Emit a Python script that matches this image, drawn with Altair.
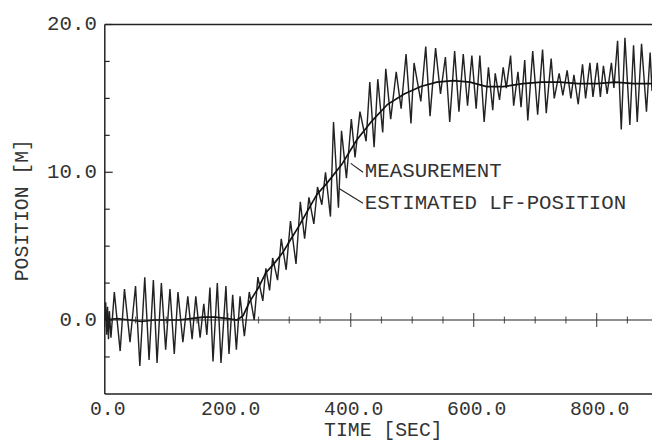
import altair as alt
import pandas as pd

meas_t = [0, 1.5, 3, 4.5, 6, 7.5, 10, 15.5, 25, 32, 41, 50, 57, 65, 72, 79, 85, 92, 99, 106,
          113, 119, 127, 135, 142, 148, 155, 161, 166, 171, 176, 183, 189, 197, 202, 208, 214,
          220, 227, 235, 243, 249, 257, 262, 268, 273, 281, 287, 295, 302, 311, 318, 325, 332,
          340, 346, 353, 359, 367, 372, 380, 385, 393, 401, 407, 415, 425, 431, 438, 444, 452,
          457, 465, 474, 482, 490, 498, 503, 514, 522, 529, 538, 546, 554, 561, 569, 576, 583,
          590, 597, 604, 610, 617, 624, 631, 635, 642, 648, 653, 660, 665, 672, 677, 683, 688,
          696, 704, 712, 718, 726, 731, 739, 745, 752, 758, 763, 770, 777, 782, 789, 794, 801,
          806, 811, 817, 824, 828, 834, 840, 846, 854, 860, 866, 873, 881, 887, 890]
meas_y = [0.0, 1.2, -1.0, 0.9, -1.3, 0.6, -1.2, 1.9, -2.1, 2.1, -1.5, 2.3, -3.1, 2.9, -2.7, 2.7,
          -2.9, 2.5, -2.0, 2.1, -2.3, 1.9, -1.5, 1.6, -1.3, 1.6, -1.2, 1.1, -1.0, 2.2, -2.8, 2.5,
          -2.9, 2.3, -2.3, 1.7, -2.0, 1.6, -1.1, 1.9, 0.0, 2.9, 1.3, 3.5, 2.0, 4.2, 2.7, 5.5, 3.4,
          6.7, 3.8, 8.0, 5.5, 8.3, 6.5, 9.0, 7.8, 10.0, 7.0, 13.4, 7.6, 12.8, 9.6, 13.6, 11.0,
          14.1, 12.1, 16.1, 11.7, 16.3, 12.7, 17.0, 13.6, 16.8, 14.3, 18.0, 13.3, 17.4, 14.8,
          18.5, 13.8, 18.4, 15.3, 17.8, 13.4, 18.2, 14.1, 18.0, 14.5, 17.9, 14.3, 17.9, 13.4,
          17.1, 14.2, 16.7, 14.9, 17.1, 15.7, 17.9, 14.5, 16.8, 14.4, 17.6, 13.5, 18.2, 13.9,
          18.3, 14.0, 17.7, 15.0, 16.7, 15.2, 16.9, 15.0, 16.6, 14.6, 17.3, 15.0, 17.4, 15.1,
          17.4, 15.1, 17.2, 15.3, 17.4, 15.7, 18.9, 12.9, 19.1, 13.2, 18.6, 13.4, 18.7, 14.1,
          18.1, 15.5]

# Estimated low-frequency position
lf_t = [0, 20, 40, 60, 80, 100, 120, 140, 160, 180, 200, 215, 225, 235, 250, 262, 275, 290,
        300, 315, 330, 345, 360, 385, 410, 435, 460, 487, 514, 540, 567, 594, 621, 648, 680,
        710, 740, 770, 800, 830, 860, 890]
lf_y = [0.0, 0.1, 0.0, -0.1, 0.0, 0.0, 0.0, 0.1, 0.2, 0.2, 0.1, 0.0, 0.3, 1.2, 2.2, 3.2, 3.8,
        4.6, 5.3, 6.3, 7.4, 8.5, 9.2, 10.5, 12.2, 13.5, 14.6, 15.3, 15.8, 16.1, 16.2, 16.1,
        15.8, 15.8, 16.0, 16.1, 16.1, 16.0, 16.0, 16.1, 16.0, 16.0]

zero_major = [0, 200, 400, 600, 800]
zero_minor = [50, 100, 150, 250, 300, 350, 450, 500, 550, 650, 700, 750, 850]
y_major = [0, 10, 20]
y_minor = [-2.5, 2.5, 5, 7.5, 12.5, 15, 17.5]
x_title = "TIME [SEC]"
y_title = "POSITION [M]"

labels_txt = ["MEASUREMENT", "ESTIMATED LF-POSITION"]
labels_t = [423, 423]
labels_y = [10.1, 7.9]
lead_t = [400, 381]
lead_y = [10.6, 8.9]
lead_t2 = [420, 420]
lead_y2 = [10.0, 7.9]

FONT = "Liberation Mono"
INK = "#222222"
TXT = "#333333"
XD = [0, 890]
YD = [-5, 20]
W, H = 554, 374

meas = pd.DataFrame({"t": meas_t, "y": meas_y})
lf = pd.DataFrame({"t": lf_t, "y": lf_y})

xs = alt.Scale(domain=XD, nice=False, zero=False)
ys = alt.Scale(domain=YD, nice=False, zero=False)


def X(f):
    return alt.X(f, scale=xs, axis=None)


def Y(f):
    return alt.Y(f, scale=ys, axis=None)


meas_line = alt.Chart(meas).mark_line(color=INK, strokeWidth=1.45, clip=True).encode(
    x=X("t:Q"), y=Y("y:Q"), order="t:Q")
lf_line = alt.Chart(lf).mark_line(color="#111111", strokeWidth=1.7, clip=True).encode(
    x=X("t:Q"), y=Y("y:Q"), order="t:Q")

# frame: bottom, top (horizontal) and left (vertical) lines on the scale edges
frame_h = alt.Chart(pd.DataFrame({"v": YD})).mark_rule(color=INK, strokeWidth=1.5).encode(
    y=Y("v:Q"))
frame_v = alt.Chart(pd.DataFrame({"t": [XD[0]]})).mark_rule(color=INK, strokeWidth=1.5).encode(
    x=X("t:Q"))

zero_rule = alt.Chart(pd.DataFrame({"v": [0]})).mark_rule(color=INK, strokeWidth=1.2).encode(
    y=Y("v:Q"))

zt_major = alt.Chart(pd.DataFrame({"t": zero_major, "v": [0] * len(zero_major)})).mark_tick(
    orient="vertical", size=14, thickness=1.3, color=INK).encode(x=X("t:Q"), y=Y("v:Q"))
zt_minor = alt.Chart(pd.DataFrame({"t": zero_minor, "v": [0] * len(zero_minor)})).mark_tick(
    orient="vertical", size=7, thickness=1.2, color=INK).encode(x=X("t:Q"), y=Y("v:Q"))

yt_major = alt.Chart(pd.DataFrame({"v": y_major})).mark_rule(color=INK, strokeWidth=1.2).encode(
    y=Y("v:Q"), x=alt.value(0), x2=alt.value(8))
yt_minor = alt.Chart(pd.DataFrame({"v": y_minor})).mark_rule(color=INK, strokeWidth=1.2).encode(
    y=Y("v:Q"), x=alt.value(0), x2=alt.value(5))

# tick labels
xl_df = pd.DataFrame({"t": zero_major, "s": [f"{v:.1f}" for v in zero_major]})
x_labels = alt.Chart(xl_df).mark_text(font=FONT, fontSize=20, color=TXT, align="center",
                                      baseline="top", dx=3).encode(
    x=X("t:Q"), y=alt.value(H + 5), text="s:N")
yl_df = pd.DataFrame({"v": y_major, "s": [f"{v:.1f}" for v in y_major]})
y_labels = alt.Chart(yl_df).mark_text(font=FONT, fontSize=21, color=TXT, align="right",
                                      baseline="middle").encode(
    y=Y("v:Q"), x=alt.value(-8), text="s:N")

title_df = pd.DataFrame({"s": [x_title]})
x_tit = alt.Chart(title_df).mark_text(font=FONT, fontSize=20, color=TXT, align="center",
                                      baseline="alphabetic").encode(
    x=alt.value(282), y=alt.value(H + 43), text="s:N")
ytitle_df = pd.DataFrame({"s": [y_title]})
y_tit = alt.Chart(ytitle_df).mark_text(font=FONT, fontSize=20, color=TXT, align="center",
                                       baseline="middle", angle=270).encode(
    x=alt.value(-84), y=alt.value(188), text="s:N")

lab_df = pd.DataFrame({"txt": labels_txt, "t": labels_t, "y": labels_y,
                       "lt": lead_t, "ly": lead_y, "lt2": lead_t2, "ly2": lead_y2})
leaders = alt.Chart(lab_df).mark_rule(color=INK, strokeWidth=1.1).encode(
    x=X("lt:Q"), y=Y("ly:Q"), x2="lt2:Q", y2="ly2:Q")
texts = alt.Chart(lab_df).mark_text(font=FONT, fontSize=21, color=TXT, align="left",
                                    baseline="middle").encode(
    x=X("t:Q"), y=Y("y:Q"), text="txt:N")

chart = alt.layer(meas_line, lf_line, frame_h, frame_v, zero_rule, zt_major, zt_minor,
                  yt_major, yt_minor, x_labels, y_labels, x_tit, y_tit,
                  leaders, texts).properties(
    width=W, height=H,
    autosize=alt.AutoSizeParams(type="none"),
    padding={"left": 98, "top": 14, "right": 0, "bottom": 48},
    background="white",
).configure_view(stroke=None)

chart.save("out.html", embed_options={"renderer": "svg", "actions": False})
